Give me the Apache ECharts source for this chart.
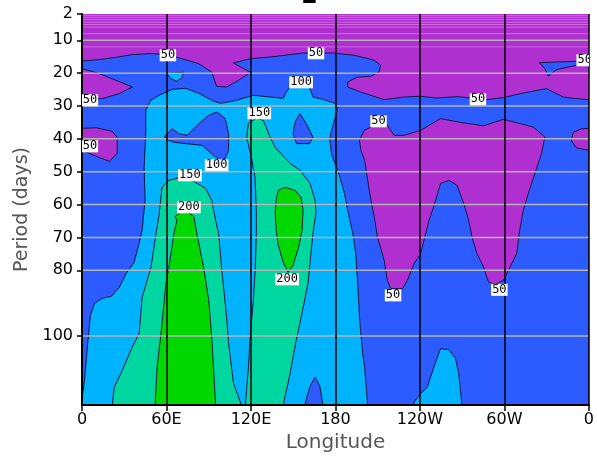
<!DOCTYPE html>
<html>
<head>
<meta charset="utf-8">
<script src="https://cdn.jsdelivr.net/npm/echarts@6/dist/echarts.min.js"></script>
<style>
  html, body { margin: 0; padding: 0; background: #ffffff; }
  #chart { width: 597px; height: 458px; }
</style>
</head>
<body>
<div id="chart"></div>
<script>
// ---- axes ----
const periodTicks = [2, 10, 20, 30, 40, 50, 60, 70, 80, 100];
const periodGrid = [10, 20, 30, 40, 50, 60, 70, 80, 100];
const periodFineLines = [2.4, 3, 3.7, 4.5, 5.2, 6, 8, 12];
const lonTickLabels = ['0', '60E', '120E', '180', '120W', '60W', '0'];
const titleText = 'L';

// ---- contour regions, vertices as [longitude (deg E), period (days)] ----
// power >= 50 : everything below the upper 50 contour
const above50 = [
  [0, 16.31], [12.3, 15.88], [24.3, 15.18], [35.6, 14.36], [47.6, 14.05], [59.6, 14.27],
  [66.7, 15.09], [82.9, 17.10], [92.1, 19.66], [95.6, 24.01], [102.7, 24.22], [111.1, 22.18],
  [119.6, 19.75], [107.6, 16.92], [119.6, 15.58], [133.7, 15.09], [157.0, 13.88], [178.2, 13.88],
  [193.5, 14.57], [207.6, 16.09], [212.0, 17.62], [211.0, 19.66], [205.0, 20.96], [195.8, 21.18],
  [188.7, 22.70], [188.7, 24.22], [197.9, 25.74], [214.6, 28.06], [228.8, 27.27], [240.3, 27.05],
  [252.2, 27.57], [266.4, 27.15], [287.5, 28.06], [299.3, 27.45], [313.4, 26.05], [329.9, 24.71],
  [341.7, 27.27], [351.0, 27.75], [360, 28.06], [360, 121], [0, 121]
];
// power < 50 pockets inside the 50 region
const below50WestUpper = [
  [0, 18.62], [12.3, 20.14], [24.1, 22.18], [35.8, 24.22], [26.5, 26.23], [14.5, 27.75], [0, 28.06]
];
const below50WestLower = [
  [0, 36.79], [10.2, 36.64], [21.5, 37.71], [25.0, 39.53], [25.0, 44.40], [19.4, 46.84],
  [10.2, 45.32], [0, 43.49]
];
const below50EastPacific = [
  [197.0, 40.45], [200.5, 37.40], [207.6, 35.88], [216.9, 35.88], [221.7, 38.92], [228.8, 38.92],
  [240.5, 37.40], [254.6, 33.84], [268.7, 34.97], [285.2, 36.03], [299.3, 34.05], [320.5, 36.40],
  [328.7, 39.44], [326.3, 44.50], [321.6, 50.58], [316.9, 56.67], [313.4, 61.76], [310.8, 67.84],
  [308.7, 74.94], [304.0, 79.01], [299.3, 83.06], [293.4, 84.28], [288.7, 83.58], [285.2, 79.01],
  [280.5, 74.94], [277.0, 69.88], [274.6, 64.80], [271.1, 59.72], [266.4, 54.15], [260.5, 52.62],
  [254.6, 53.63], [250.1, 60.23], [246.4, 64.80], [240.5, 74.94], [235.8, 77.98], [231.1, 83.06],
  [227.6, 85.59], [219.3, 85.59], [216.9, 83.06], [214.6, 76.98], [209.8, 69.88], [208.0, 64.80],
  [205.2, 58.71], [202.9, 52.62], [200.7, 46.53], [198.1, 43.49]
];
const below50Atlantic = [
  [360, 36.79], [354.6, 36.95], [348.9, 38.01], [347.5, 40.45], [351.0, 42.73], [360, 43.49]
];
const above50AtlanticTop = [
  [324.9, 16.79], [351.0, 16.40], [360, 16.40], [360, 17.31], [351.0, 17.62], [337.0, 18.93],
  [331.3, 20.87], [328.6, 18.62]
];
// power >= 100
const above100Main = [
  [0, 121], [0, 118.98], [1.8, 113.5], [3.9, 102.85], [6.0, 93.72], [8.8, 90.07], [14.5, 88.54],
  [20.8, 87.94], [26.5, 85.20], [31.4, 80.93], [37.0, 77.58], [40.6, 71.80], [42.7, 67.84],
  [44.1, 61.76], [44.8, 58.71], [44.1, 48.67], [45.3, 38.32], [45.3, 31.31], [48.8, 28.27],
  [54.7, 26.75], [63.9, 24.93], [73.7, 24.62], [82.9, 26.14], [92.1, 28.27], [98.4, 29.18],
  [109.7, 28.27], [121.7, 26.75], [133.7, 27.27], [142.9, 27.66], [145.0, 25.83], [147.8, 24.01],
  [150.6, 23.09], [160.5, 23.09], [164.0, 27.27], [171.1, 27.97], [179.6, 29.18], [181.7, 30.40],
  [179.6, 33.75], [176.7, 38.32], [176.0, 40.45], [177.4, 45.01], [181.7, 49.58], [186.4, 56.58],
  [188.7, 61.76], [192.3, 68.76], [194.4, 74.85], [195.8, 83.98], [197.2, 95.24], [199.3, 105.29],
  [200.7, 109.55], [202.9, 121]
];
const above100EastPacific = [
  [235.8, 121], [235.8, 120.11], [240.5, 117.56], [245.2, 115.54], [249.9, 109.46], [254.6, 103.86],
  [260.5, 104.16], [265.2, 106.81], [267.6, 111.46], [268.7, 116.55], [269.9, 121]
];
const above100IndianTop = [
  [60.3, 20.05], [66.0, 19.90], [72.3, 19.75], [70.9, 21.42], [67.4, 22.49], [63.2, 21.72]
];
// power < 100 pockets inside the 100 region
const below100Indian = [
  [58.7, 39.23], [64.1, 36.88], [68.8, 38.41], [74.7, 38.92], [82.9, 35.36], [90.0, 32.84],
  [95.8, 31.83], [101.7, 33.84], [104.1, 38.41], [104.1, 43.49], [100.5, 47.14], [93.5, 45.01],
  [85.2, 41.97], [73.5, 41.45], [64.1, 40.96], [59.4, 39.93]
];
const below100WestPacific = [
  [154.7, 32.32], [159.3, 35.36], [164.0, 39.44], [161.7, 41.45], [152.3, 41.45], [149.9, 38.41],
  [151.3, 34.97]
];
const below100DateLine = [
  [158.2, 121], [161.7, 115.55], [165.3, 112.50], [168.8, 115.03], [171.1, 121]
];
// power >= 150
const above150Indian = [
  [21.5, 121], [22.9, 115.64], [28.6, 110.46], [35.6, 103.46], [40.6, 99.20], [42.7, 88.24],
  [49.0, 79.11], [52.6, 68.76], [54.7, 63.28], [56.8, 54.75], [61.7, 52.62], [70.2, 51.71],
  [78.0, 52.62], [87.8, 55.06], [92.1, 58.71], [94.9, 64.80], [97.0, 68.76], [99.1, 79.11],
  [102.7, 94.33], [104.1, 102.24], [107.6, 114.42], [113.2, 121]
];
const above150WestPacific = [
  [118.2, 35.27], [123.8, 33.75], [128.8, 34.36], [133.7, 39.53], [137.2, 42.58], [147.8, 47.45],
  [154.9, 49.58], [161.9, 53.54], [165.5, 58.71], [166.2, 62.36], [164.0, 68.76], [160.5, 83.98],
  [155.6, 94.33], [152.1, 101.33], [147.8, 111.37], [142.9, 121], [116.0, 121], [118.2, 109.55],
  [119.6, 99.20], [121.7, 89.15], [123.1, 79.11], [123.8, 68.76], [123.8, 61.76], [122.9, 51.71],
  [120.3, 45.62], [117.0, 39.53]
];
// power >= 200
const above200Indian = [
  [66.0, 63.58], [70.2, 62.36], [74.4, 62.06], [79.4, 63.58], [81.5, 68.76], [86.4, 79.11],
  [90.0, 89.15], [92.1, 100.11], [93.5, 110.46], [94.9, 121], [51.9, 121], [53.3, 109.55],
  [56.1, 99.20], [59.6, 83.98], [61.7, 79.11], [65.3, 68.76], [67.4, 64.80]
];
const above200WestPacific = [
  [137.9, 58.71], [139.4, 55.67], [144.3, 54.75], [151.3, 55.67], [155.6, 57.80], [157.0, 61.76],
  [156.3, 67.84], [154.2, 72.41], [149.9, 78.50], [146.4, 80.63], [142.9, 77.58], [139.4, 72.41],
  [137.9, 67.84], [137.2, 62.36]
];

// contour labels: [longitude, period, level]
const contourLabels = [
  [61.0, 14.57, 50], [166.2, 13.96, 50], [357.0, 16.09, 50], [5.6, 28.27, 50], [5.6, 42.27, 50],
  [281.2, 27.97, 50], [210.6, 34.66, 50], [155.6, 22.79, 100], [125.9, 32.23, 150],
  [95.6, 48.05, 100], [76.6, 51.1, 150], [75.9, 60.84, 200], [145.7, 82.76, 200],
  [220.9, 87.63, 50], [296.4, 85.95, 50]
];

// ---- drawing ----
// fill colour for the band that starts at each contour level (0 = below the lowest level)
const levelColors = { 0: '#b02fd0', 50: '#2c5cff', 100: '#00b3ff', 150: '#00d6a0', 200: '#00d800' };

// painted in order: each region is filled with the band colour of its lower bound
const layers = [
  [above50, 50],
  [below50WestUpper, 0], [below50WestLower, 0], [below50EastPacific, 0], [below50Atlantic, 0],
  [above50AtlanticTop, 50],
  [above100Main, 100], [above100EastPacific, 100], [above100IndianTop, 100],
  [below100Indian, 50], [below100WestPacific, 50], [below100DateLine, 50],
  [above150Indian, 150], [above150WestPacific, 150],
  [above200Indian, 200], [above200WestPacific, 200]
];

const LON_MIN = 0, LON_MAX = 360, P_MIN = 2, P_MAX = 121;

const chart = echarts.init(document.getElementById('chart'), null, { renderer: 'canvas' });

chart.setOption({
  animation: false,
  backgroundColor: '#ffffff',
  graphic: [{
    type: 'text',
    left: 301,
    top: -15,
    style: { text: titleText, font: 'bold 24px "DejaVu Sans"', fill: '#000000' }
  }],
  grid: {
    left: 82, right: 4, top: 14, bottom: 53,
    show: true, backgroundColor: levelColors[0], borderWidth: 0
  },
  xAxis: {
    type: 'value', min: LON_MIN, max: LON_MAX, interval: 60, z: 10,
    name: 'Longitude', nameLocation: 'middle', nameGap: 27,
    nameTextStyle: { fontFamily: 'DejaVu Sans', fontSize: 20, color: '#555555' },
    axisLine: { show: true, lineStyle: { color: '#000000', width: 2 } },
    axisTick: { show: true, length: 6, lineStyle: { color: '#000000', width: 1.5 } },
    axisLabel: {
      margin: 7, fontFamily: 'DejaVu Sans', fontSize: 16, color: '#000000',
      formatter: (v, i) => lonTickLabels[i]
    },
    splitLine: { show: true, lineStyle: { color: '#000000', width: 1.5 } }
  },
  yAxis: {
    type: 'value', min: P_MIN, max: P_MAX, inverse: true, z: 10,
    name: 'Period (days)', nameLocation: 'middle', nameGap: 50, nameRotate: 90,
    nameTextStyle: { fontFamily: 'DejaVu Sans', fontSize: 19, color: '#555555' },
    axisLine: { show: true, lineStyle: { color: '#000000', width: 2 } },
    axisTick: { show: true, length: 5, customValues: periodTicks, lineStyle: { color: '#000000', width: 1.5 } },
    axisLabel: {
      margin: 9, fontFamily: 'DejaVu Sans', fontSize: 16, color: '#000000',
      customValues: periodTicks, formatter: v => String(v)
    },
    splitLine: { show: false }
  },
  series: [
    {
      // faint lines in the short-period band
      type: 'custom', z: 1, clip: true,
      data: periodFineLines.map(p => [LON_MIN, p]),
      renderItem: (params, api) => {
        const a = api.coord([LON_MIN, api.value(1)]);
        const b = api.coord([LON_MAX, api.value(1)]);
        return { type: 'line', shape: { x1: a[0], y1: a[1], x2: b[0], y2: b[1] },
                 style: { stroke: 'rgba(235,150,245,0.55)', lineWidth: 1 } };
      }
    },
    {
      // filled contour bands
      type: 'custom', z: 2, clip: true,
      data: layers.map(l => l[0][0]),
      renderItem: (params, api) => {
        const [pts, level] = layers[params.dataIndex];
        return {
          type: 'polygon',
          shape: { points: pts.map(p => api.coord(p)) },
          style: { fill: levelColors[level], stroke: '#161640', lineWidth: 1 }
        };
      }
    },
    {
      // period grid lines
      type: 'custom', z: 3, clip: true,
      data: periodGrid.map(p => [LON_MIN, p]),
      renderItem: (params, api) => {
        const a = api.coord([LON_MIN, api.value(1)]);
        const b = api.coord([LON_MAX, api.value(1)]);
        return { type: 'line', shape: { x1: a[0], y1: a[1], x2: b[0], y2: b[1] },
                 style: { stroke: '#b4b4b4', lineWidth: 1.5 } };
      }
    },
    {
      // contour level labels
      type: 'custom', z: 20, clip: true,
      data: contourLabels,
      renderItem: (params, api) => {
        const c = api.coord([api.value(0), api.value(1)]);
        return {
          type: 'text', x: c[0], y: c[1],
          style: {
            text: String(api.value(2)), fill: '#000000', font: '12px "DejaVu Sans Mono"',
            align: 'center', verticalAlign: 'middle',
            backgroundColor: '#ffffff', padding: [0, 1, 0, 1]
          }
        };
      }
    }
  ]
});
</script>
</body>
</html>
